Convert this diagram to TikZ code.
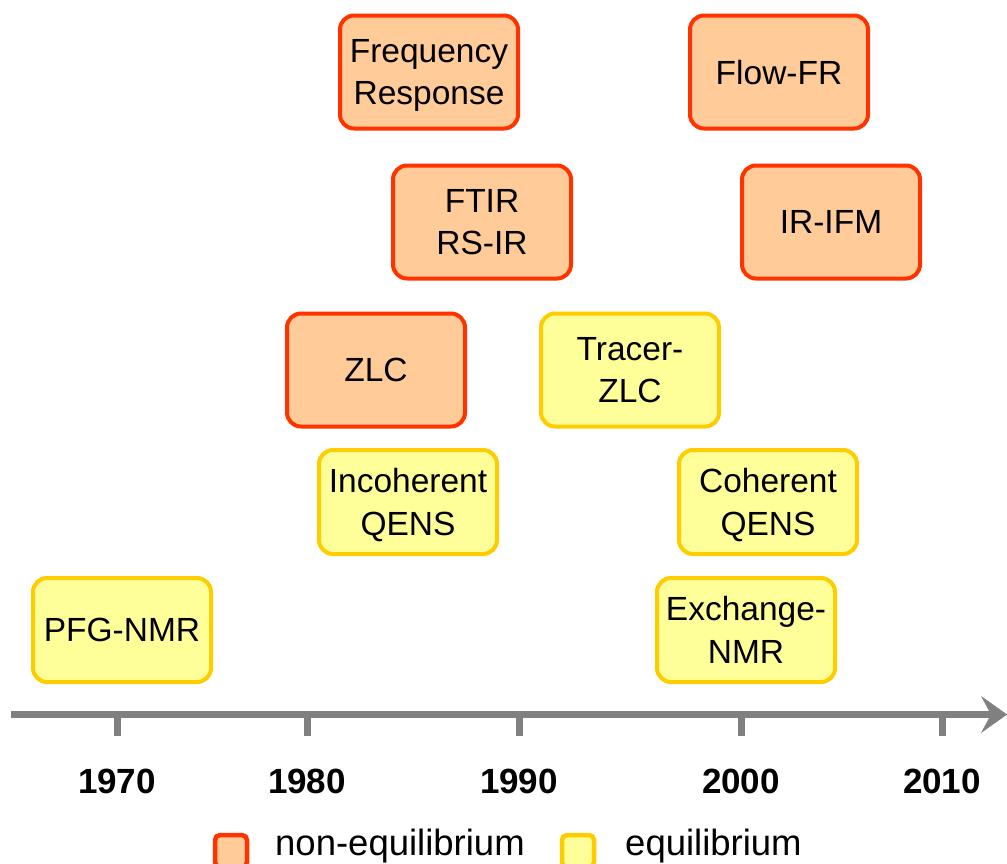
\documentclass[tikz,border=0pt]{standalone}
\usepackage{fontspec}
\setmainfont{Liberation Sans}
\usetikzlibrary{arrows.meta}
\definecolor{neqfill}{HTML}{FFCC99}
\definecolor{neqline}{HTML}{FF3300}
\definecolor{eqfill}{HTML}{FFFF99}
\definecolor{eqline}{HTML}{FFCC00}
\definecolor{axisgray}{HTML}{808080}
\tikzset{
  boxtext/.style={font=\fontsize{33.5}{42.5}\selectfont, align=center, inner sep=0pt, text depth=0pt},
  neqbox/.style={boxtext, draw=neqline, fill=neqfill, line width=4pt, rounded corners=14pt, minimum width=178pt, minimum height=113pt},
  eqbox/.style={boxtext, draw=eqline, fill=eqfill, line width=4pt, rounded corners=14pt, minimum width=178pt, minimum height=104pt},
  axisline/.style={draw=axisgray, line width=7pt, -{Stealth[length=26pt,width=37pt,inset=10pt,line width=0.5pt]}},
  tickline/.style={draw=axisgray, line width=7pt},
  yearlabel/.style={font=\fontsize{35}{40}\selectfont\bfseries, inner sep=0pt, anchor=base},
  legsq/.style={line width=4.5pt, rounded corners=5pt, minimum size=32pt, inner sep=0pt},
  legtext/.style={font=\fontsize{36.5}{42}\selectfont, inner sep=0pt, anchor=base west},
}
\begin{document}
\begin{tikzpicture}[x=1pt,y=-1pt]
\useasboundingbox (0,0) rectangle (1007,863);
% boxes
\node[neqbox] (fr) at (429,72) {Frequency\\Response};
\node[neqbox] (ffr) at (779,72) {Flow-FR};
\node[neqbox] (ftir) at (482,222) {FTIR\\RS-IR};
\node[neqbox] (irifm) at (831,222) {IR-IFM};
\node[neqbox] (zlc) at (376,370) {ZLC};
\node[eqbox, minimum height=113pt] (tzlc) at (630,370) {Tracer-\\ZLC};
\node[eqbox] (iqens) at (408,502) {Incoherent\\QENS};
\node[eqbox] (cqens) at (768,502) {Coherent\\QENS};
\node[eqbox] (pfg) at (122,630) {PFG-NMR};
\node[eqbox] (exnmr) at (746,630) {Exchange-\\NMR};
% axis
\coordinate (a0) at (11,714.5);
\coordinate (a1) at (1007,714.5);
\draw[axisline] (a0) -- (a1);
\foreach \x/\y in {117/1970,307/1980,519/1990,741/2000,942/2010}{
  \draw[tickline] (\x,714) -- (\x,736);
  \node[yearlabel] (y\y) at (\x,793) {\y};
}
% legend
\node[legsq, draw=neqline, fill=neqfill] (lsq1) at (231,851) {};
\node[legtext] (lt1) at (275,855) {non-equilibrium};
\node[legsq, draw=eqline, fill=eqfill] (lsq2) at (578,851) {};
\node[legtext] (lt2) at (625,855) {equilibrium};
\end{tikzpicture}
\end{document}
